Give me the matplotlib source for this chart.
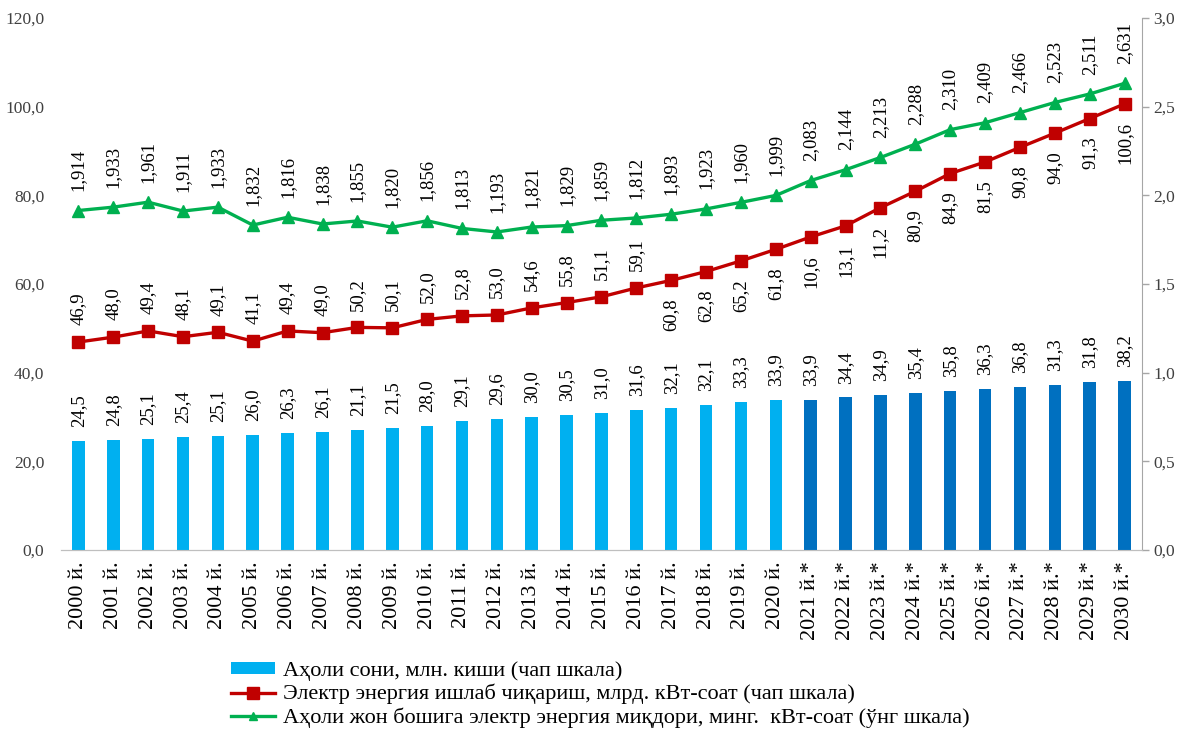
import numpy as np
import matplotlib
matplotlib.use("Agg")
import matplotlib.pyplot as plt
from matplotlib.ticker import FuncFormatter
from matplotlib.patches import Patch
from matplotlib.lines import Line2D

plt.rcParams['font.family'] = ['Liberation Serif', 'DejaVu Serif']

# years, * = forecast
years = [str(y) + " й." for y in range(2000, 2021)] + [str(y) + " й.*" for y in range(2021, 2031)]

# population, mln (left scale)
population = [24.5, 24.8, 25.1, 25.4, 25.7, 26.0, 26.3, 26.7, 27.1, 27.5, 28.0,
              29.1, 29.6, 30.0, 30.5, 31.0, 31.6, 32.1, 32.7, 33.3, 33.9,
              33.9, 34.4, 34.9, 35.4, 35.8, 36.3, 36.8, 37.3, 37.8, 38.2]
population_lbl = ["24,5", "24,8", "25,1", "25,4", "25,1", "26,0", "26,3", "26,1", "21,1", "21,5", "28,0",
                  "29,1", "29,6", "30,0", "30,5", "31,0", "31,6", "32,1", "32,1", "33,3", "33,9",
                  "33,9", "34,4", "34,9", "35,4", "35,8", "36,3", "36,8", "31,3", "31,8", "38,2"]

# electricity production, bln kWh (left scale)
production = [46.9, 48.0, 49.4, 48.1, 49.1, 47.1, 49.4, 49.0, 50.2, 50.1, 52.0,
              52.8, 53.0, 54.6, 55.8, 57.1, 59.1, 60.8, 62.8, 65.2, 67.8,
              70.6, 73.1, 77.2, 80.9, 84.9, 87.5, 90.8, 94.0, 97.3, 100.6]
production_lbl = ["46,9", "48,0", "49,4", "48,1", "49,1", "41,1", "49,4", "49,0", "50,2", "50,1", "52,0",
                  "52,8", "53,0", "54,6", "55,8", "51,1", "59,1", "60,8", "62,8", "65,2", "61,8",
                  "10,6", "13,1", "11,2", "80,9", "84,9", "81,5", "90,8", "94,0", "91,3", "100,6"]

# per capita electricity, thousand kWh (right scale)
per_capita = [1.914, 1.933, 1.961, 1.911, 1.933, 1.832, 1.876, 1.838, 1.855, 1.820, 1.856,
              1.813, 1.793, 1.821, 1.829, 1.859, 1.872, 1.893, 1.923, 1.960, 1.999,
              2.083, 2.144, 2.213, 2.288, 2.370, 2.409, 2.466, 2.523, 2.571, 2.631]
per_capita_lbl = ["1,914", "1,933", "1,961", "1,911", "1,933", "1,832", "1,816", "1,838", "1,855", "1,820", "1,856",
                  "1,813", "1,193", "1,821", "1,829", "1,859", "1,812", "1,893", "1,923", "1,960", "1,999",
                  "2,083", "2,144", "2,213", "2,288", "2,310", "2,409", "2,466", "2,523", "2,511", "2,631"]

n_fact = 21  # 2000-2020 actual, rest forecast

x = np.arange(len(years))
bar_colors = ['#00B0F0'] * n_fact + ['#0070C0'] * (len(years) - n_fact)

fig = plt.figure(figsize=(11.84, 7.4), dpi=100)
ax = fig.add_axes([0.0515, 0.2568, 0.913, 0.719])
ax2 = ax.twinx()

ax.bar(x, population, width=0.36, color=bar_colors, zorder=2)
ax2.plot(x, per_capita, color='#00B050', lw=2.4, marker='^', ms=9, zorder=3)
ax.plot(x, production, color='#C00000', lw=2.4, marker='s', ms=9, zorder=3)

ax.set_zorder(ax2.get_zorder() + 1)
ax.patch.set_visible(False)

ax.set_xlim(-0.5, len(years) - 0.5)
ax.set_ylim(0, 120)
ax2.set_ylim(0, 3)
ax.set_yticks(np.arange(0, 121, 20))
ax2.set_yticks(np.arange(0, 3.01, 0.5))
fmt = FuncFormatter(lambda v, p: ("%.1f" % v).replace(".", ","))
ax.yaxis.set_major_formatter(fmt)
ax2.yaxis.set_major_formatter(fmt)
ax.set_xticks(x)
ax.set_xticklabels(years, rotation=90, fontsize=16)

for a in (ax, ax2):
    for s in ('top', 'left', 'right'):
        a.spines[s].set_visible(False)
    a.spines['bottom'].set_color('#BFBFBF')
ax2.spines['right'].set_visible(True)
ax2.spines['right'].set_color('#A6A6A6')
ax.tick_params(axis='x', length=0, pad=8)
ax.tick_params(axis='y', length=0, labelsize=12.5, pad=12, colors='#404040')
ax2.tick_params(axis='y', length=5, width=1, color='#A6A6A6', labelsize=12.5, labelcolor='#404040', pad=3)

# data labels
for i in range(len(years)):
    ax.annotate(population_lbl[i], (x[i], population[i]), xytext=(0, 10), textcoords='offset points',
                rotation=90, ha='center', va='bottom', fontsize=13.5)
    if i < 17:
        ax.annotate(production_lbl[i], (x[i], production[i]), xytext=(0, 12), textcoords='offset points',
                    rotation=90, ha='center', va='bottom', fontsize=13.5)
    else:
        ax.annotate(production_lbl[i], (x[i], production[i]), xytext=(0, -13), textcoords='offset points',
                    rotation=90, ha='center', va='top', fontsize=13.5)
    ax2.annotate(per_capita_lbl[i], (x[i], per_capita[i]), xytext=(0, 14), textcoords='offset points',
                 rotation=90, ha='center', va='bottom', fontsize=13.5)

# legend
handles = [Patch(facecolor='#00B0F0', edgecolor='none'),
           Line2D([], [], color='#C00000', lw=2.4, marker='s', ms=8),
           Line2D([], [], color='#00B050', lw=2.4, marker='^', ms=6)]
labels = ["Аҳоли сони, млн. киши (чап шкала)",
          "Электр энергия ишлаб чиқариш, млрд. кВт-соат (чап шкала)",
          "Аҳоли жон бошига электр энергия миқдори, минг.  кВт-соат (ўнг шкала)"]
fig.legend(handles, labels, loc='upper center', bbox_to_anchor=(0.507, 0.118), frameon=False,
           fontsize=16, handlelength=1.95, handleheight=0.45, handletextpad=0.35, labelspacing=0.12,
           borderaxespad=0)

fig.savefig("out.png", dpi=100)
